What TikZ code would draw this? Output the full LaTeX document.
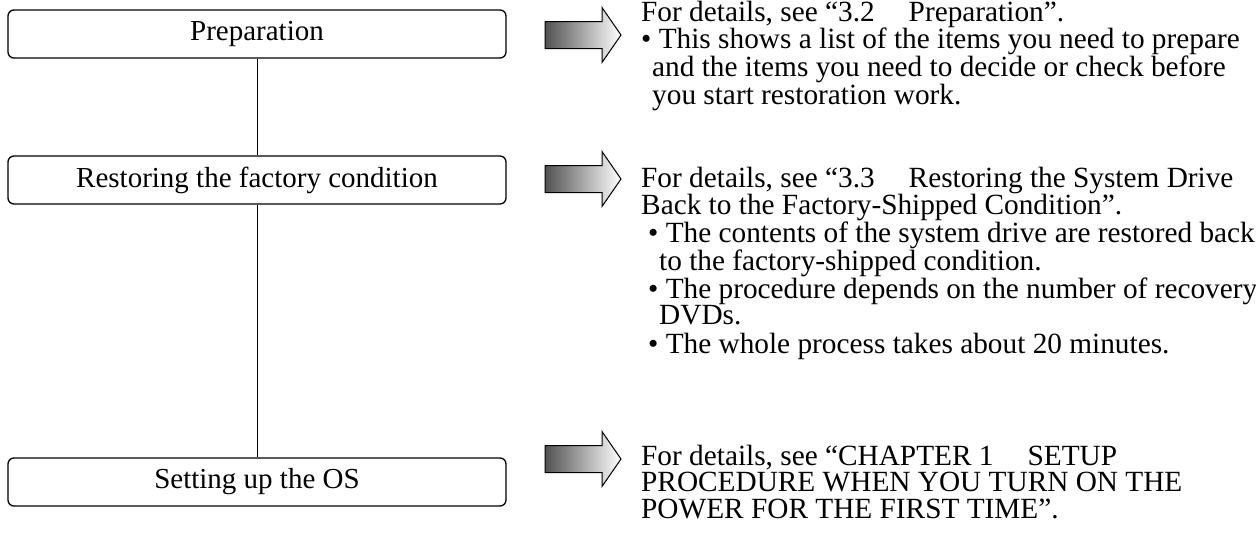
\documentclass[tikz,border=0pt]{standalone}
\usepackage{fontspec}
\setmainfont{Liberation Serif}
\usepackage{tikz}
\usetikzlibrary{positioning}
\tikzset{
flow_box/.style={rectangle, rounded corners=6pt, draw, line width=1.3pt, minimum width=498pt, minimum height=48pt, font=\fontsize{29}{32}\selectfont},
fat_arrow/.style={draw, line width=1pt, line join=miter, left color=black!68, right color=white},
note/.style={anchor=north west, align=left, inner sep=0pt, font=\fontsize{29.3}{26.4}\selectfont}
}

\begin{document}
\begin{tikzpicture}[x=1pt, y=-1pt]
    \useasboundingbox (0,0) rectangle (1256,550);
    \node[flow_box] (box_1) at (257,34) {Preparation};
    \node[flow_box] (box_2) at (257,180) {Restoring the factory condition};
    \node[flow_box] (box_3) at (257,482) {Setting up the OS};
    \draw[line width=1pt] (box_1) -- (box_2);
    \draw[line width=1pt] (box_2) -- (box_3);
    % block arrows pointing at the notes
    \coordinate (arrow_1) at (545,35);
    \coordinate (arrow_2) at (545,179);
    \coordinate (arrow_3) at (545,459);
    \foreach \i in {1,2,3}
        \draw[fat_arrow] (arrow_\i) ++(0,-13.5) -- ++(57,0) -- ++(0,-14) -- ++(19,27.5) -- ++(-19,27.5) -- ++(0,-14) -- ++(-57,0) -- cycle;
    \node[note] (note_1) at (641,0.5) {For details, see “3.2\hspace{34pt}Preparation”.\\
        • This shows a list of the items you need to prepare\\
        \hspace*{11pt}and the items you need to decide or check before\\
        \hspace*{11pt}you start restoration work.};
    \node[note] (note_2) at (641,166.5) {For details, see “3.3\hspace{34pt}Restoring the System Drive\\
        Back to the Factory-Shipped Condition”.\\
        \hspace*{7pt}• The contents of the system drive are restored back\\
        \hspace*{18pt}to the factory-shipped condition.\\
        \hspace*{7pt}• The procedure depends on the number of recovery\\
        \hspace*{18pt}DVDs.\\[2pt]
        \hspace*{7pt}• The whole process takes about 20 minutes.};
    \node[note] (note_3) at (641,445) {For details, see “CHAPTER 1\hspace{34pt}SETUP\\
        PROCEDURE WHEN YOU TURN ON THE\\
        POWER FOR THE FIRST TIME”.};
\end{tikzpicture}
\end{document}
